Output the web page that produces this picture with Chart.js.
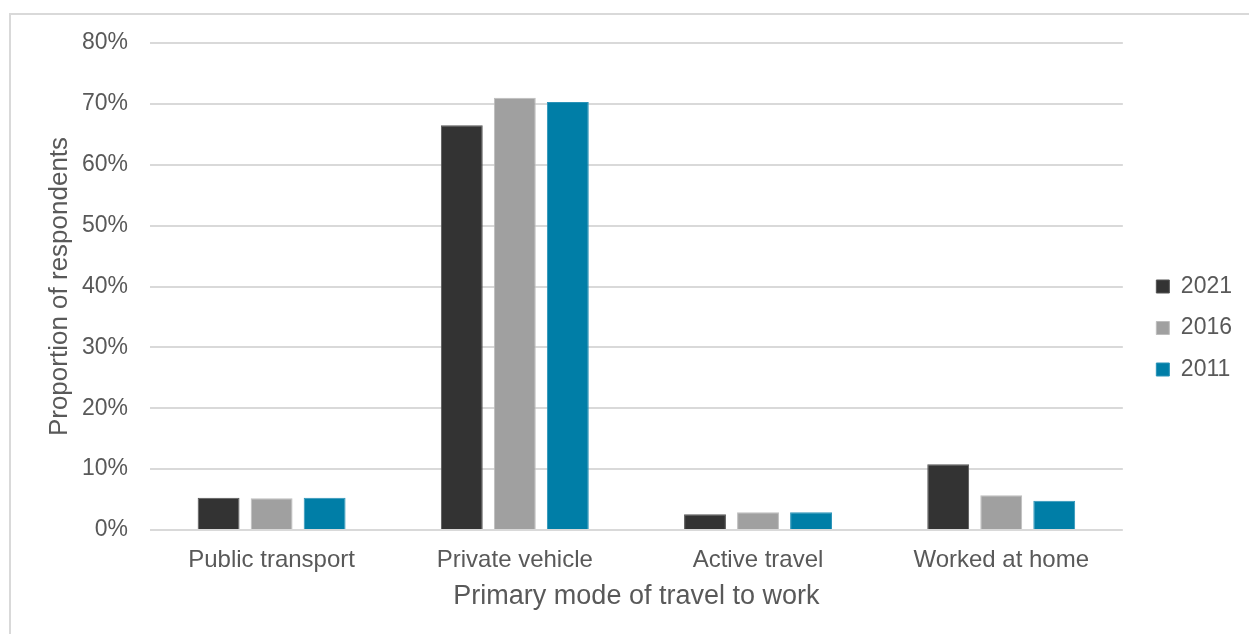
<!DOCTYPE html>
<html>
<head>
    <title>Primary mode of travel to work</title>
    <script src="https://cdn.jsdelivr.net/npm/chart.js"></script>
    <style>
        body { margin: 0; background: #fff; font-family: "Liberation Sans", Arial, sans-serif; }
        .frame { position: absolute; left: 9px; top: 13px; width: 1300px; height: 700px;
                 border-left: 2px solid #d9d9d9; border-top: 2px solid #d9d9d9; }
        .chart-box { position: absolute; left: 0; top: 0; width: 1249px; height: 634px; }
    </style>
</head>
<body>
    <div class="frame"></div>
    <div class="chart-box">
        <canvas id="travelChart"></canvas>
    </div>

    <script>
        const categories = ['Public transport', 'Private vehicle', 'Active travel', 'Worked at home'];
        const years = ['2021', '2016', '2011'];
        const values2021 = [5.3, 66.5, 2.6, 10.8];
        const values2016 = [5.2, 71.0, 2.9, 5.7];
        const values2011 = [5.3, 70.3, 2.9, 4.8];
        const yTicksMax = 80;
        const yTicksStep = 10;

        const textColor = '#595959';
        const fontFamily = '"Liberation Sans", Arial, sans-serif';

        function makeDataset(label, data, fill, edge) {
            return {
                label: label,
                data: data,
                backgroundColor: fill,
                borderColor: edge,
                borderWidth: 1,
                categoryPercentage: 0.654,
                barPercentage: 0.79
            };
        }

        const ctx = document.getElementById('travelChart').getContext('2d');
        new Chart(ctx, {
            type: 'bar',
            data: {
                labels: categories,
                datasets: [
                    makeDataset(years[0], values2021, '#333333', '#555555'),
                    makeDataset(years[1], values2016, '#a0a0a0', '#bdbdbd'),
                    makeDataset(years[2], values2011, '#007ea7', '#2a93b8')
                ]
            },
            options: {
                responsive: true,
                maintainAspectRatio: false,
                animation: false,
                layout: { padding: { left: 40, top: 43, right: 7, bottom: 21 } },
                plugins: {
                    tooltip: { enabled: false },
                    legend: {
                        position: 'right',
                        labels: {
                            boxWidth: 13,
                            boxHeight: 13,
                            padding: 18.5,
                            color: textColor,
                            font: { family: fontFamily, size: 23 }
                        }
                    }
                },
                scales: {
                    x: {
                        grid: { display: false },
                        border: { display: false },
                        ticks: { color: textColor, padding: 8, font: { family: fontFamily, size: 24 } },
                        title: {
                            display: true,
                            text: 'Primary mode of travel to work',
                            color: textColor,
                            padding: { top: 0, bottom: 0 },
                            font: { family: fontFamily, size: 27 }
                        },
                        afterFit: s => { s.height = 83; }
                    },
                    y: {
                        min: 0,
                        max: yTicksMax,
                        grid: { color: '#d9d9d9', lineWidth: 2, drawTicks: false },
                        border: { display: false },
                        ticks: {
                            stepSize: yTicksStep,
                            padding: 22,
                            color: textColor,
                            font: { family: fontFamily, size: 23 },
                            callback: v => v + '%'
                        },
                        title: {
                            display: true,
                            text: 'Proportion of respondents',
                            color: textColor,
                            padding: { top: 4, bottom: 4 },
                            font: { family: fontFamily, size: 26 }
                        },
                        afterFit: s => { s.width = 110; }
                    },
                    // spacer between plot and legend
                    gap: {
                        type: 'linear',
                        position: 'right',
                        grid: { display: false },
                        border: { display: false },
                        ticks: { display: false },
                        afterFit: s => { s.width = 15; }
                    }
                }
            }
        });
    </script>
</body>
</html>
